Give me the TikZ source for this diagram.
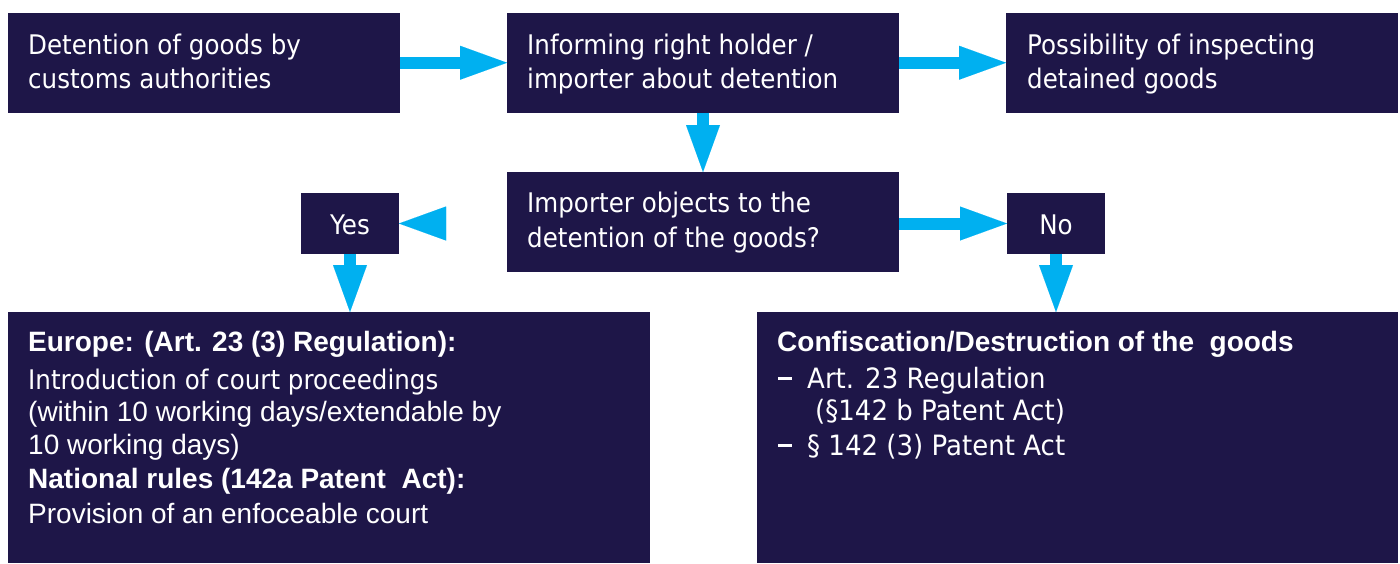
\documentclass[tikz,border=0pt]{standalone}
\usepackage{fontspec}
\setmainfont{Liberation Sans}
\newfontfamily\tah[FakeStretch=0.91]{DejaVu Sans}
\newfontfamily\tahw[FakeStretch=0.93]{DejaVu Sans}
\usetikzlibrary{arrows.meta}
\definecolor{boxnavy}{RGB}{30,22,72}
\definecolor{arrowblue}{RGB}{0,176,240}
\begin{document}
\begin{tikzpicture}[x=1pt,y=-1pt,
  box/.style={fill=boxnavy, draw=none, inner sep=0pt, outer sep=0pt, anchor=north west},
  tt/.style={text=white, inner sep=0pt, anchor=base west, font=\tah\fontsize{27}{32}\selectfont},
  ttw/.style={text=white, inner sep=0pt, anchor=base west, font=\tahw\fontsize{28}{32}\selectfont},
  artxt/.style={text=white, inner sep=0pt, anchor=base west, font=\fontsize{28}{32}\selectfont},
  arbold/.style={text=white, inner sep=0pt, anchor=base west, font=\bfseries\fontsize{28}{32}\selectfont},
  flow/.style={draw=arrowblue, line width=12pt, -{Triangle[length=47pt,width=34pt,line width=0.01pt]}},
  headonly/.style={draw=white, line width=12pt, -{Triangle[length=47pt,width=34pt,line width=0.01pt,color=arrowblue]}},
]
\useasboundingbox (0,0) rectangle (1400,563);
% boxes
\node[box, minimum width=392pt, minimum height=99.5pt] (A) at (8,13) {};
\node[box, minimum width=392pt, minimum height=99.5pt] (B) at (507,13) {};
\node[box, minimum width=392pt, minimum height=99.5pt] (C) at (1006,13) {};
\node[box, minimum width=392pt, minimum height=99.5pt] (D) at (507,172) {};
\node[box, minimum width=98pt, minimum height=61pt] (Yes) at (301,193) {};
\node[box, minimum width=98pt, minimum height=61pt] (No) at (1007,193) {};
\node[box, minimum width=642pt, minimum height=251pt] (Eu) at (8,312) {};
\node[box, minimum width=641pt, minimum height=251pt] (Cf) at (757,312) {};
% connectors
\draw[flow] (A.east) -- (B.west);
\draw[flow] (B.east) -- (C.west);
\draw[flow] (B.south) -- (D.north);
\draw[headonly] (Yes.east -| D.west) -- (Yes.east);
\draw[flow] (No.west -| D.east) -- (No.west);
\draw[flow] (Yes.south) -- (Yes.south |- Eu.north);
\draw[flow] (No.south) -- (No.south |- Cf.north);
% texts
\node[tt] (a1) at (28,54) {Detention of goods by};
\node[tt] (a2) at (28,88) {customs authorities};
\node[tt] (b1) at (527,54) {Informing right holder /};
\node[tt] (b2) at (527,88) {importer about detention};
\node[tt] (c1) at (1027,54) {Possibility of inspecting};
\node[tt] (c2) at (1027,88) {detained goods};
\node[tt] (d1) at (527,212) {Importer objects to the};
\node[tt] (d2) at (527,247) {detention of the goods?};
\node[tt, anchor=base] (yt) at (350,234) {Yes};
\node[tt, anchor=base] (nt) at (1056,234) {No};
\node[arbold] (e1) at (28,351) {Europe: (Art. 23 (3) Regulation):};
\node[tt] (e2) at (28,389) {Introduction of court proceedings};
\node[artxt] (e3) at (28,421) {(within 10 working days/extendable by};
\node[artxt] (e4) at (28,454) {10 working days)};
\node[arbold] (e5) at (28,488) {National rules (142a Patent\ \ Act):};
\node[artxt] (e6) at (28,523) {Provision of an enfoceable court};
\node[arbold] (f1) at (777,351) {Confiscation/Destruction of the\ \ goods};
\node[ttw] (f2) at (778,388) {\rule[8.5pt]{14pt}{3pt}};
\node[ttw] (f3) at (807,388) {Art. 23 Regulation};
\node[ttw] (f4) at (815,420) {(§142 b Patent Act)};
\node[ttw] (f5) at (778,455) {\rule[8.5pt]{14pt}{3pt}};
\node[ttw] (f6) at (807,455) {§ 142 (3) Patent Act};
\end{tikzpicture}
\end{document}
